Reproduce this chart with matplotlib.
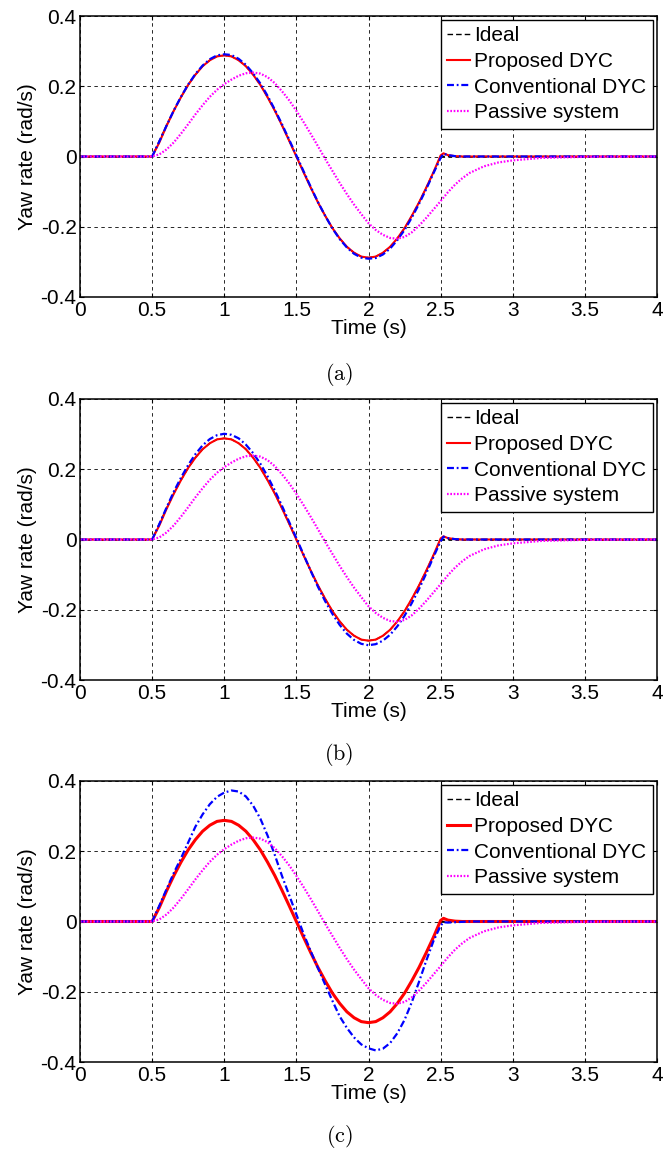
import numpy as np
import matplotlib
matplotlib.use("Agg")
import matplotlib.pyplot as plt

plt.rcParams['font.family'] = ['Liberation Sans', 'DejaVu Sans']
plt.rcParams['mathtext.fontset'] = 'cm'
plt.rcParams['lines.scale_dashes'] = False

# Time base (s)
time = [0.0, 0.5, 0.55, 0.6, 0.65, 0.7, 0.75, 0.8, 0.85, 0.9, 0.95,
        1.0, 1.05, 1.1, 1.15, 1.2, 1.25, 1.3, 1.35, 1.4, 1.45,
        1.5, 1.55, 1.6, 1.65, 1.7, 1.75, 1.8, 1.85, 1.9, 1.95,
        2.0, 2.05, 2.1, 2.15, 2.2, 2.25, 2.3, 2.35, 2.4, 2.45,
        2.5, 2.52, 2.55, 2.6, 2.65, 2.7, 2.8, 2.9, 3.0, 3.2, 3.5, 4.0]

# Yaw rate (rad/s)
ideal = [0.0, 0.0, 0.045, 0.089, 0.131, 0.169, 0.204, 0.233, 0.257, 0.274, 0.285,
         0.288, 0.285, 0.274, 0.257, 0.233, 0.204, 0.169, 0.131, 0.089, 0.045,
         0.0, -0.045, -0.089, -0.131, -0.169, -0.204, -0.233, -0.257, -0.274, -0.285,
         -0.288, -0.285, -0.274, -0.257, -0.233, -0.204, -0.169, -0.131, -0.089, -0.045,
         0.0, 0.0, 0.0, 0.0, 0.0, 0.0, 0.0, 0.0, 0.0, 0.0, 0.0, 0.0]

proposed = [0.0, 0.0, 0.040, 0.087, 0.130, 0.169, 0.204, 0.233, 0.257, 0.274, 0.285,
            0.288, 0.285, 0.274, 0.257, 0.233, 0.204, 0.169, 0.131, 0.089, 0.045,
            0.0, -0.045, -0.089, -0.131, -0.169, -0.204, -0.233, -0.257, -0.274, -0.285,
            -0.288, -0.285, -0.274, -0.257, -0.233, -0.204, -0.169, -0.131, -0.089, -0.045,
            0.003, 0.009, 0.004, 0.001, 0.0, 0.0, 0.0, 0.0, 0.0, 0.0, 0.0, 0.0]

conventional_a = [0.0, 0.0, 0.043, 0.088, 0.131, 0.170, 0.205, 0.235, 0.259, 0.277, 0.288,
                  0.291, 0.289, 0.278, 0.261, 0.237, 0.208, 0.173, 0.134, 0.092, 0.048,
                  0.003, -0.042, -0.087, -0.130, -0.169, -0.205, -0.235, -0.259, -0.277, -0.288,
                  -0.291, -0.289, -0.279, -0.262, -0.238, -0.209, -0.174, -0.135, -0.093, -0.048,
                  -0.004, 0.008, 0.004, 0.001, 0.0, 0.0, 0.0, 0.0, 0.0, 0.0, 0.0, 0.0]

conventional_b = [0.0, 0.0, 0.044, 0.091, 0.136, 0.176, 0.212, 0.243, 0.268, 0.286, 0.297,
                  0.301, 0.298, 0.288, 0.270, 0.246, 0.216, 0.180, 0.140, 0.096, 0.050,
                  0.004, -0.043, -0.090, -0.135, -0.176, -0.212, -0.243, -0.268, -0.286, -0.297,
                  -0.301, -0.298, -0.288, -0.271, -0.247, -0.217, -0.181, -0.141, -0.097, -0.050,
                  -0.005, 0.008, 0.004, 0.001, 0.0, 0.0, 0.0, 0.0, 0.0, 0.0, 0.0, 0.0]

conventional_c = [0.0, 0.0, 0.045, 0.092, 0.138, 0.180, 0.225, 0.270, 0.305, 0.334, 0.355,
                  0.367, 0.373, 0.370, 0.356, 0.330, 0.293, 0.245, 0.190, 0.130, 0.075,
                  0.020, -0.035, -0.085, -0.133, -0.180, -0.226, -0.270, -0.303, -0.330, -0.350,
                  -0.361, -0.367, -0.362, -0.346, -0.318, -0.280, -0.230, -0.172, -0.112, -0.056,
                  -0.012, -0.002, -0.003, -0.002, -0.001, 0.0, 0.0, 0.0, 0.0, 0.0, 0.0, 0.0]

passive = [0.0, 0.0, 0.006, 0.020, 0.040, 0.065, 0.092, 0.120, 0.146, 0.170, 0.190,
           0.206, 0.219, 0.230, 0.237, 0.239, 0.236, 0.226, 0.209, 0.186, 0.160,
           0.130, 0.098, 0.064, 0.029, -0.007, -0.041, -0.075, -0.107, -0.137, -0.164,
           -0.190, -0.209, -0.223, -0.232, -0.234, -0.229, -0.216, -0.197, -0.175, -0.151,
           -0.127, -0.117, -0.102, -0.080, -0.062, -0.047, -0.028, -0.017, -0.011, -0.004, -0.001, 0.0]

xticks = [0, 0.5, 1, 1.5, 2, 2.5, 3, 3.5, 4]
xtick_labels = ['0', '0.5', '1', '1.5', '2', '2.5', '3', '3.5', '4']
yticks = [-0.4, -0.2, 0, 0.2, 0.4]
ytick_labels = ['-0.4', '-0.2', '0', '0.2', '0.4']
series_names = ['Ideal', 'Proposed DYC', 'Conventional DYC', 'Passive system']
captions = ['(a)', '(b)', '(c)']

W, H = 664, 1152
fig = plt.figure(figsize=(W / 100, H / 100), dpi=100)

panel_tops = [16, 399, 781]
panel_h = 281
ax_left, ax_right = 80, 657
caption_y = [375, 755, 1137]
conventional_sets = [conventional_a, conventional_b, conventional_c]
red_widths = [1.5, 1.5, 2.2]

FS = 15

for i in range(3):
    top = panel_tops[i]
    ax = fig.add_axes([ax_left / W, 1 - (top + panel_h) / H,
                       (ax_right - ax_left) / W, panel_h / H])
    ax.plot(time, ideal, color='black', lw=1.0, dashes=(4, 2.2), label=series_names[0])
    ax.plot(time, proposed, color='red', lw=red_widths[i], label=series_names[1])
    ax.plot(time, conventional_sets[i], color='blue', lw=1.6,
            dashes=(5, 2, 1.3, 2), label=series_names[2])
    ax.plot(time, passive, color='magenta', lw=1.6, dashes=(1.2, 1.2),
            label=series_names[3])

    ax.set_xlim(0, 4)
    ax.set_ylim(-0.4, 0.4)
    ax.set_xticks(xticks)
    ax.set_xticklabels(xtick_labels)
    ax.set_yticks(yticks)
    ax.set_yticklabels(ytick_labels)
    ax.tick_params(direction='in', length=3, width=0.8, labelsize=FS,
                   top=True, right=True)
    ax.tick_params(axis='x', pad=3)
    ax.tick_params(axis='y', pad=2.5)
    ax.grid(True, color='0.15', lw=0.7, dashes=(2.5, 2.5))
    for sp in ax.spines.values():
        sp.set_linewidth(1.1)

    ax.set_xlabel('Time (s)', fontsize=FS)
    ax.xaxis.set_label_coords(0.5, -0.078)
    ax.set_ylabel('Yaw rate (rad/s)', fontsize=FS)
    ax.yaxis.set_label_coords(-0.075, 0.5)

    leg = ax.legend(loc='upper right', fontsize=FS, frameon=True, fancybox=False,
                    framealpha=1, edgecolor='black', borderpad=0.3,
                    labelspacing=0.32, handlelength=1.1, handletextpad=0.2,
                    borderaxespad=0.2)
    leg.get_frame().set_linewidth(1.0)

    fig.text(339 / W, 1 - caption_y[i] / H, r'$\mathrm{' + captions[i] + '}$',
             ha='center', va='center', fontsize=16)

fig.savefig('out.png', dpi=100)
